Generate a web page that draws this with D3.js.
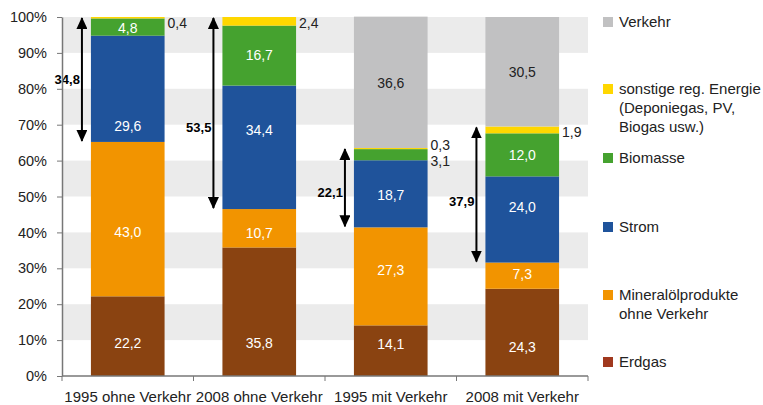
<!DOCTYPE html>
<html><head><meta charset="utf-8">
<script src="https://cdn.jsdelivr.net/npm/d3@7"></script>
<style>
body{margin:0;background:#fff;}
text{font-family:"Liberation Sans",Arial,sans-serif;}
</style></head>
<body><svg id="c" width="763" height="405"></svg>
<script>
const categories = ["1995 ohne Verkehr","2008 ohne Verkehr","1995 mit Verkehr","2008 mit Verkehr"];
const seriesNames = ["Erdgas","Mineralölprodukte ohne Verkehr","Strom","Biomasse","sonstige reg. Energie (Deponiegas, PV, Biogas usw.)","Verkehr"];
const erdgas   = [22.2, 35.8, 14.1, 24.3];
const mineral  = [43.0, 10.7, 27.3, 7.3];
const strom    = [29.6, 34.4, 18.7, 24.0];
const biomasse = [4.8, 16.7, 3.1, 12.0];
const sonstige = [0.4, 2.4, 0.3, 1.9];
const verkehr  = [0, 0, 36.6, 30.5];
const renewShare = [34.8, 53.5, 22.1, 37.9];
const yTicks = [0,10,20,30,40,50,60,70,80,90,100];

// label anchor heights (in % on the value axis) as placed in the original chart
const labelAt = [
  [9.2, 9.2, 8.9, 8.1],       // Erdgas
  [40.1, 39.8, 29.5, 28.4],   // Mineralöl
  [69.6, 68.5, 50.4, 47.1],   // Strom
  [96.9, 89.4, null, 61.6],   // Biomasse
  [null, null, null, null],   // sonstige
  [null, null, 81.6, 84.7]    // Verkehr
];
const arrowLabelDy = [0, 14, 4, 6];

const colors = ["#8A4311","#F29400","#1F539B","#45A22F","#FFD700","#C1C1C2"];
const legendColors = ["#A0381E","#F29400","#1F539B","#45A22F","#FFD700","#C1C1C2"];
const seriesVals = [erdgas, mineral, strom, biomasse, sonstige, verkehr];

const svg = d3.select("#c");
const x0 = 62, x1 = 588, yTop = 17, yBot = 376;
const x = d3.scaleBand().domain(categories).range([x0, x1]).paddingInner(0.44).paddingOuter(0.22);
const y = d3.scaleLinear().domain([0,100]).range([yBot, yTop]);

// grid bands
for (let i = 0; i < 10; i++) {
  if (i % 2 === 1) {
    svg.append("rect").attr("x", x0).attr("width", x1 - x0)
      .attr("y", y(yTicks[i+1])).attr("height", y(yTicks[i]) - y(yTicks[i+1]))
      .attr("fill", "#EBEBEB");
  }
}

// stacks
const rows = categories.map((c, i) => {
  const r = {cat: c};
  seriesNames.forEach((s, k) => r[s] = seriesVals[k][i]);
  return r;
});
const stack = d3.stack().keys(seriesNames)(rows);
stack.forEach((layer, k) => {
  svg.append("g").selectAll("rect").data(layer).join("rect")
    .attr("x", d => x(d.data.cat)).attr("width", x.bandwidth())
    .attr("y", d => y(d[1])).attr("height", d => Math.max(0, y(d[0]) - y(d[1])))
    .attr("fill", colors[k]);
});

const fmt = v => v.toFixed(1).replace(".", ",");
// inside labels
stack.forEach((layer, k) => {
  layer.forEach((d, i) => {
    const v = d[1] - d[0];
    const at = labelAt[k][i];
    if (v <= 0 || at === null) return;
    svg.append("text").attr("x", x(d.data.cat) + x.bandwidth()/2)
      .attr("y", y(at) + 5)
      .attr("text-anchor", "middle").attr("font-size", 14)
      .attr("fill", k === 5 ? "#222" : "#fff").text(fmt(v));
  });
});
// small outside labels
const outside = [];
categories.forEach((c, i) => {
  if (sonstige[i] > 0 && labelAt[4][i] === null) outside.push({cat: c, v: sonstige[i], k: 4, i});
  if (biomasse[i] > 0 && labelAt[3][i] === null) outside.push({cat: c, v: biomasse[i], k: 3, i});
});
outside.forEach(o => {
  const layer = stack[o.k][o.i];
  let yy = (y(layer[0]) + y(layer[1]))/2 + 7;
  if (o.i === 2 && o.k === 4) yy = y(layer[1]) + 2;
  if (o.i === 2 && o.k === 3) yy = y(layer[0]) + 6;
  if (o.i === 0 || o.i === 1) yy = y(100) + 11;
  svg.append("text").attr("x", x(o.cat) + x.bandwidth() + 3).attr("y", yy)
    .attr("font-size", 14).attr("fill", "#222").text(fmt(o.v));
});

// arrows
const defs = svg.append("defs");
defs.append("marker").attr("id", "mh").attr("viewBox","0 0 12 11")
  .attr("refX", 11).attr("refY", 5.5).attr("markerWidth", 12).attr("markerHeight", 11)
  .attr("markerUnits","userSpaceOnUse").attr("orient","auto-start-reverse")
  .append("path").attr("d","M0,0L12,5.5L0,11Z").attr("fill","#000");
categories.forEach((c, i) => {
  const base = erdgas[i] + mineral[i];
  const top = base + renewShare[i];
  const ax = x(c) - 9;
  const ya = y(top) + 1, yb = y(base) - 1;
  svg.append("line").attr("x1", ax).attr("x2", ax).attr("y1", ya).attr("y2", yb)
    .attr("stroke","#000").attr("stroke-width",2)
    .attr("marker-start","url(#mh)").attr("marker-end","url(#mh)");
  svg.append("text").attr("x", ax - 2).attr("y", (ya + yb)/2 + 5 + arrowLabelDy[i])
    .attr("text-anchor","end").attr("font-size", 13).attr("font-weight","bold")
    .attr("fill","#000").text(fmt(renewShare[i]));
});

// axes
const yaxis = svg.append("g").attr("transform", `translate(${x0},0)`)
  .call(d3.axisLeft(y).tickValues(yTicks).tickFormat(d => d + "%").tickSize(5).tickSizeOuter(0));
yaxis.select(".domain").attr("stroke","#777").attr("stroke-width",1.5);
yaxis.selectAll(".tick line").attr("stroke","#777");
yaxis.selectAll(".tick text").attr("font-size",14.5).attr("fill","#222").attr("x",-15)
  .style("font-family",'"Liberation Sans",Arial,sans-serif');

const xa = svg.append("g").attr("transform", `translate(0,${yBot})`);
xa.append("line").attr("x1", x0).attr("x2", x1).attr("stroke","#777").attr("stroke-width",1.5);
const bounds = [x0].concat(categories.map(c => x(c) + x.bandwidth() + x.step()*x.paddingInner()/2).slice(0,3)).concat([x1]);
bounds.forEach(b => xa.append("line").attr("x1", b).attr("x2", b).attr("y1", 0).attr("y2", 5).attr("stroke","#777"));
categories.forEach(c => xa.append("text").attr("x", x(c) + x.bandwidth()/2).attr("y", 26)
  .attr("text-anchor","middle").attr("font-size",15).attr("fill","#222").text(c));

// legend
const legend = [
  {k:5, y:22, lines:["Verkehr"]},
  {k:4, y:89, lines:["sonstige reg. Energie","(Deponiegas, PV,","Biogas usw.)"]},
  {k:3, y:158, lines:["Biomasse"]},
  {k:2, y:227, lines:["Strom"]},
  {k:1, y:295, lines:["Mineralölprodukte","ohne Verkehr"]},
  {k:0, y:362, lines:["Erdgas"]}
];
legend.forEach(l => {
  svg.append("rect").attr("x", 603).attr("y", l.y - 5).attr("width", 10).attr("height", 10)
    .attr("fill", legendColors[l.k]);
  const t = svg.append("text").attr("x", 619).attr("y", l.y + 5).attr("font-size", 15).attr("fill","#222");
  l.lines.forEach((s, j) => t.append("tspan").attr("x", 619).attr("dy", j ? 19 : 0).text(s));
});
</script></body></html>
